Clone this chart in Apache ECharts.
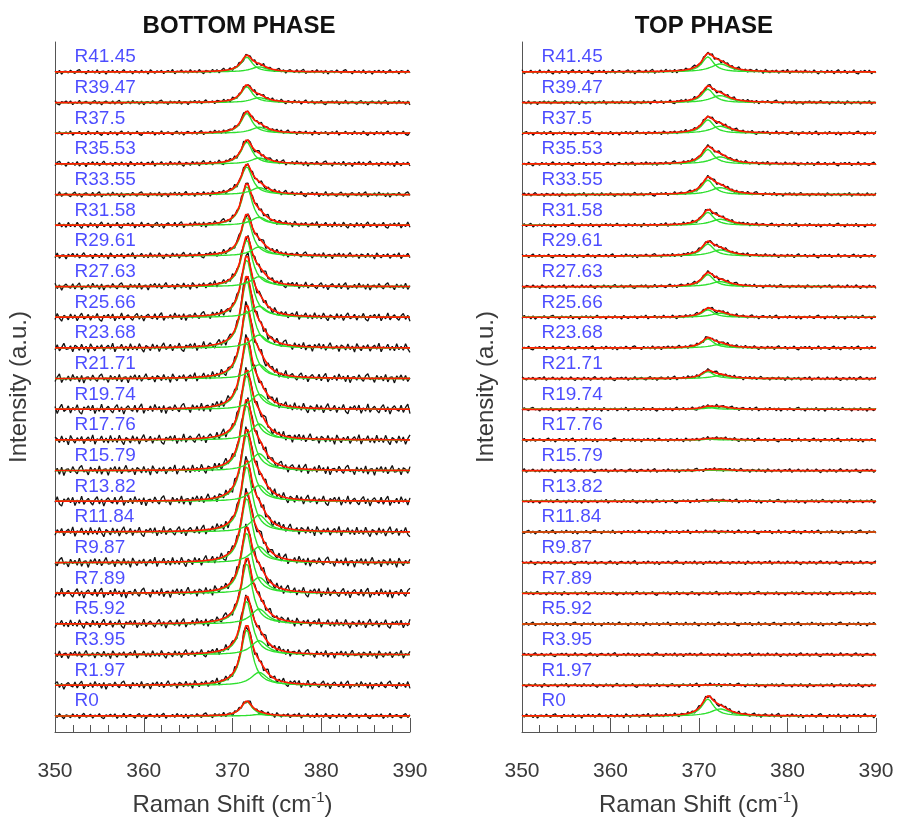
<!DOCTYPE html>
<html>
<head>
<meta charset="utf-8">
<script src="https://cdn.jsdelivr.net/npm/echarts@6/dist/echarts.min.js"></script>
<style>
  html, body { margin: 0; padding: 0; background: #fff; }
  #main { width: 899px; height: 817px; }
</style>
</head>
<body>
<div id="main"></div>
<script>
"use strict";
// 样品位置标签 (bottom -> top)
var traceLabels = ['R0', 'R1.97', 'R3.95', 'R5.92', 'R7.89', 'R9.87', 'R11.84', 'R13.82', 'R15.79', 'R17.76', 'R19.74',
    'R21.71', 'R23.68', 'R25.66', 'R27.63', 'R29.61', 'R31.58', 'R33.55', 'R35.53', 'R37.5', 'R39.47', 'R41.45'];
var xTicks = [350, 360, 370, 380, 390];

// bottom phase: peak heights (a.u.) of the two fitted components
var bottomMain = [14.5, 56, 54, 61, 61, 65, 66, 67, 66, 65, 67, 69, 68, 58, 47, 39, 39, 28, 22, 20, 16, 15];
var bottomSecond = [1.5, 13, 14, 15, 16, 16, 17, 16, 17, 16, 15, 14, 13, 11, 10, 9, 8, 7, 6, 6, 5, 5];
var bottomNoise = [3, 4.5, 4.5, 5, 5.5, 5.5, 5.5, 5.5, 5.5, 5.5, 5.5, 5, 5, 4.5, 4, 3.5, 3.5, 3, 3, 2.5, 2.5, 2.5];
var bottomPeak = {c1: 371.6, w1: 0.75, c2: 373.0, w2: 1.1};

// top phase
var topMain = [17, 0.3, 0, 0, 0, 0, 0.2, 0.4, 0.6, 0.8, 2, 7, 9, 7.5, 12, 12, 13, 14.5, 14.5, 13.5, 13.5, 15];
var topSecond = [7, 0.5, 0, 0, 0, 0, 0.3, 0.8, 1.2, 1.5, 2.5, 3, 3.5, 4, 5, 6, 6, 7, 7, 7, 7, 8];
var topNoise = [2.4, 2.2, 2.2, 2.2, 2.2, 2.2, 2.2, 2.2, 2.2, 2.2, 2.2, 2.2, 2.2, 2.2, 2.2, 2.2, 2.2, 2.2, 2.2, 2.2, 2.2, 2.4];
var topPeak = {c1: 371.0, w1: 0.8, c2: 372.4, w2: 1.3};

// 手动录入的噪声表
var noiseTable = [0.3, -0.5, 0.8, -0.2, -0.9, 0.4, 0.1, -0.6, 0.7, -0.3, 0.5, -0.8, 0.2, 0.9, -0.4, -0.1, 0.6, -0.7, 0.3, -0.2,
    0.8, -0.5, -0.9, 0.4, 0.0, 0.6, -0.3, 0.7, -0.8, 0.2, -0.4, 0.9, -0.6, 0.1, 0.5, -0.2, -0.7, 0.3, 0.8, -0.5,
    0.4, -0.9, 0.2, 0.6, -0.1, -0.4, 0.7, -0.6, 0.3, 0.9, -0.8, 0.1, -0.3, 0.5, -0.5, 0.8, -0.2, 0.4, -0.7, 0.6,
    -0.9, 0.2, 0.3, -0.4, 0.7, -0.1, -0.6, 0.5, 0.9, -0.3, 0.1, -0.8, 0.6, -0.2, 0.4, -0.5, 0.8, -0.7, 0.2, 0.3,
    -0.9, 0.5, -0.1, 0.7, -0.4, 0.6, -0.6, 0.1, 0.9, -0.3, -0.2, 0.4, -0.8, 0.5, 0.2, -0.5, 0.7, -0.4, 0.3, -0.9,
    0.8, 0.0, -0.6, 0.4, -0.2, 0.6, -0.7, 0.1, 0.5, -0.3, 0.9, -0.8, 0.2, -0.1, 0.7, -0.5, 0.3, -0.6, 0.8, -0.4];

var rowStep = 30.67;
var xStep = 0.25;
var FONT = 'Liberation Sans, Arial, sans-serif';

function lorentz(x, amp, c, w) {
    var d = (x - c) / w;
    return amp / (1 + d * d);
}

function buildPanel(gridIndex, main, second, noise, peak, panelShift) {
    var out = [];
    var labelData = [];
    for (var i = 0; i < traceLabels.length; i++) {
        var off = i * rowStep;
        var raw = [], g1 = [], g2 = [], fit = [];
        var n = Math.round((390 - 350) / xStep);
        for (var k = 0; k <= n; k++) {
            var x = 350 + k * xStep;
            var a = lorentz(x, main[i], peak.c1, peak.w1);
            var b = lorentz(x, second[i], peak.c2, peak.w2);
            var nz = noise[i] * noiseTable[(k + i * 37 + panelShift) % noiseTable.length];
            raw.push([x, off + a + b + nz]);
            g1.push([x, off + a]);
            g2.push([x, off + b]);
            fit.push([x, off + a + b]);
        }
        var common = {
            type: 'line', xAxisIndex: gridIndex, yAxisIndex: gridIndex,
            symbol: 'none', silent: true, animation: false
        };
        out.push(Object.assign({data: raw, lineStyle: {color: '#111', width: 1.3}}, common));
        out.push(Object.assign({data: g1, lineStyle: {color: '#2ee02e', width: 1.4}}, common));
        out.push(Object.assign({data: g2, lineStyle: {color: '#2ee02e', width: 1.4}}, common));
        out.push(Object.assign({data: fit, lineStyle: {color: '#ff1a00', width: 1.7}}, common));
        labelData.push([352.2, off + 15, traceLabels[i]]);
    }
    out.push({
        type: 'scatter', xAxisIndex: gridIndex, yAxisIndex: gridIndex,
        symbolSize: 0, silent: true, animation: false, z: 5,
        data: labelData,
        label: {
            show: true, position: 'right', distance: 0,
            formatter: function (p) { return p.value[2]; },
            color: '#1f1fff', fontSize: 19, fontFamily: FONT
        }
    });
    return out;
}

function makeXAxis(gridIndex) {
    return {
        gridIndex: gridIndex, type: 'value', min: xTicks[0], max: xTicks[xTicks.length - 1], interval: 10,
        axisLine: {show: true, onZero: false, lineStyle: {color: '#555', width: 1}},
        axisTick: {show: true, inside: true, length: 14, lineStyle: {color: '#555'}},
        minorTick: {show: true, splitNumber: 5, length: 7, lineStyle: {color: '#555'}},
        splitLine: {show: false},
        axisLabel: {fontSize: 21, color: '#3a3a3a', margin: 29, fontFamily: FONT},
        name: '{a|Raman Shift (cm}{s|-1}{a|)}',
        nameLocation: 'middle', nameGap: 58,
        nameTextStyle: {
            rich: {
                a: {fontSize: 24, color: '#3a3a3a', fontFamily: FONT},
                s: {fontSize: 15, color: '#3a3a3a', fontFamily: FONT, padding: [0, 0, 16, 0]}
            }
        }
    };
}

function makeYAxis(gridIndex) {
    return {
        gridIndex: gridIndex, type: 'value', min: -16, max: 674,
        axisLine: {show: true, lineStyle: {color: '#555', width: 1}},
        axisTick: {show: false}, axisLabel: {show: false}, splitLine: {show: false},
        name: 'Intensity (a.u.)', nameLocation: 'middle', nameGap: 24,
        nameTextStyle: {fontSize: 24, color: '#3a3a3a', fontFamily: FONT}
    };
}

var chart = echarts.init(document.getElementById('main'), null, {renderer: 'canvas'});
var series = buildPanel(0, bottomMain, bottomSecond, bottomNoise, bottomPeak, 0)
    .concat(buildPanel(1, topMain, topSecond, topNoise, topPeak, 53));

chart.setOption({
    backgroundColor: '#fff',
    animation: false,
    title: [{
        text: 'BOTTOM PHASE', left: 234, top: 9, textAlign: 'center',
        textStyle: {fontSize: 24, fontWeight: 'bold', color: '#111', fontFamily: FONT}
    }, {
        text: 'TOP PHASE', left: 699, top: 9, textAlign: 'center',
        textStyle: {fontSize: 24, fontWeight: 'bold', color: '#111', fontFamily: FONT}
    }],
    grid: [
        {left: 55, right: 489, top: 42, bottom: 85, outerBoundsMode: 'none'},
        {left: 522, right: 23, top: 42, bottom: 85, outerBoundsMode: 'none'}
    ],
    xAxis: [makeXAxis(0), makeXAxis(1)],
    yAxis: [makeYAxis(0), makeYAxis(1)],
    series: series
});
</script>
</body>
</html>
